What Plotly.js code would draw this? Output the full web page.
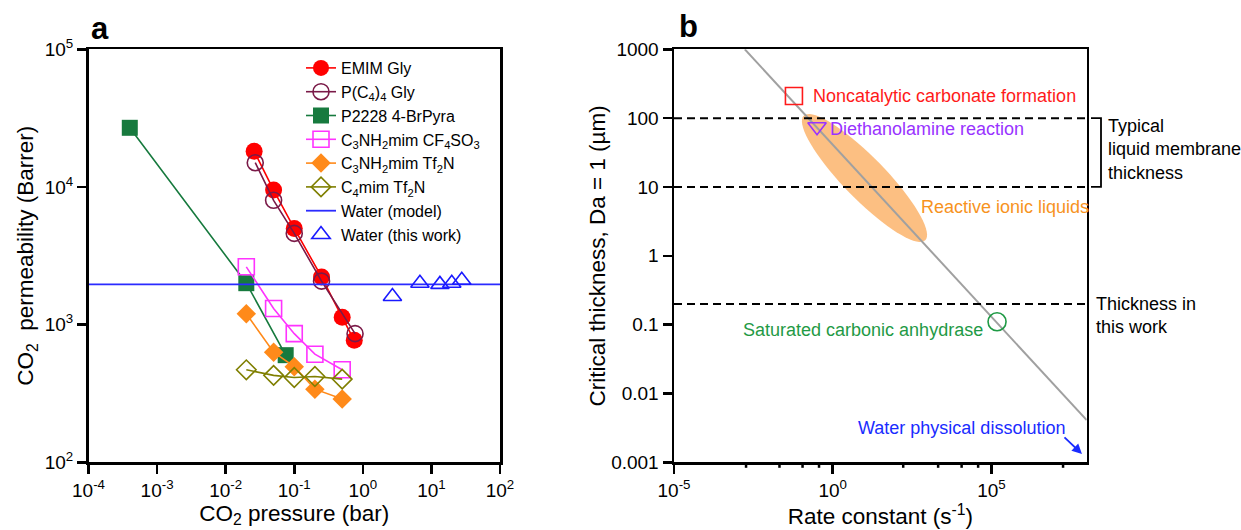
<!DOCTYPE html>
<html><head><meta charset="utf-8">
<script src="https://cdn.plot.ly/plotly-3.0.1.min.js"></script>
<style>html,body{margin:0;padding:0;background:#fff}#chart{width:1241px;height:530px}</style>
</head><body><div id="chart"></div>
<script>
// ---------- Panel a data ----------
const emimX = [0.026, 0.05, 0.1, 0.25, 0.5, 0.75];
const emimY = [18200, 9500, 5000, 2220, 1130, 770];
const pc4X = [0.027, 0.05, 0.1, 0.25, 0.77];
const pc4Y = [15000, 8000, 4600, 2070, 860];
const p2228X = [0.0004, 0.02, 0.075];
const p2228Y = [26900, 2000, 600];
const cf4X = [0.02, 0.05, 0.1, 0.2, 0.5];
const cf4Y = [2630, 1310, 860, 610, 470];
const tf2nX = [0.02, 0.05, 0.1, 0.2, 0.5];
const tf2nY = [1200, 630, 495, 340, 288];
const c4X = [0.02, 0.05, 0.1, 0.2, 0.5];
const c4Y = [470, 428, 413, 420, 402];
const waterModelX = [0.0001, 100];
const waterModelY = [1960, 1960];
const waterX = [2.7, 6.8, 13.3, 19.8, 27.7];
const waterY = [1600, 2000, 1960, 2000, 2100];

const aXTicks = [1e-4, 1e-3, 1e-2, 1e-1, 1, 10, 100];
const aXText = ['10<sup>-4</sup>','10<sup>-3</sup>','10<sup>-2</sup>','10<sup>-1</sup>','10<sup>0</sup>','10<sup>1</sup>','10<sup>2</sup>'];
const aYTicks = [100, 1000, 10000, 100000];
const aYText = ['10<sup>2</sup>','10<sup>3</sup>','10<sup>4</sup>','10<sup>5</sup>'];

// ---------- Panel b data ----------
const scalingK = [1.7e-3, 1e8];
const scalingL = [1000, 0.0041];
const refThick = [100, 10, 0.2];
const refK = [1e-5, 1e8];
const carbonateK = [0.06], carbonateL = [210];
const deaK = [0.32], deaL = [75];
const caK = [1.5e5], caL = [0.11];
const ionicEllipse = {k: 10, L: 13.5};   // centre of the reactive ionic liquids region

const bXTicks = [1e-5, 1, 1e5];
const bXText = ['10<sup>-5</sup>','10<sup>0</sup>','10<sup>5</sup>'];
const bYTicks = [0.001, 0.01, 0.1, 1, 10, 100, 1000];
const bYText = ['0.001','0.01','0.1','1','10','100','1000'];
const bMinorTicks = [1.86e-3, 0.021, 0.112, 0.37, 166, 2089, 11480, 38000, 1.8e7];

// ---------- geometry ----------
const W = 1241, H = 530;
const A = {x0: 88.5, x1: 500, y0: 49.3, y1: 462.3};
const B = {x0: 674, x1: 1086.7, y0: 49.3, y1: 462.3};
const px = v => v / W;
const py = v => 1 - v / H;
const bRangeX = [-5, 8], bRangeY = [-3, 3];
const bx = lk => B.x0 + (lk - bRangeX[0]) / (bRangeX[1] - bRangeX[0]) * (B.x1 - B.x0);
const by = ll => B.y0 + (bRangeY[1] - ll) / (bRangeY[1] - bRangeY[0]) * (B.y1 - B.y0);

const FONT = 'Liberation Sans, Arial, Helvetica, sans-serif';

function axis(range, domain, tv, tt, anchor, title, standoff) {
  return {
    type: 'log', range: range, domain: domain, anchor: anchor,
    showgrid: false, zeroline: false, showline: true, linecolor: '#000', linewidth: 2.5,
    mirror: true, ticks: 'outside', ticklen: 9, tickwidth: 2.5, tickcolor: '#000',
    tickmode: 'array', tickvals: tv, ticktext: tt,
    tickfont: {size: 19, color: '#000', family: FONT},
    title: {text: title, standoff: standoff, font: {size: 22.5, color: '#000', family: FONT}},
    automargin: false, fixedrange: true
  };
}

function series(name, x, y, color, symbol, size, filled) {
  return {
    type: 'scatter', mode: 'lines+markers', name: name, x: x, y: y,
    xaxis: 'x', yaxis: 'y',
    line: {color: color, width: 1.6},
    marker: {symbol: symbol, size: size, color: color,
             line: {color: color, width: filled ? 0 : 1.6}},
    cliponaxis: false
  };
}

const traces = [
  series('EMIM Gly', emimX, emimY, '#ff0000', 'circle', 17, true),
  series('P(C<sub>4</sub>)<sub>4</sub> Gly', pc4X, pc4Y, '#7a1a48', 'circle-open', 16, false),
  series('P2228 4-BrPyra', p2228X, p2228Y, '#177a3e', 'square', 16, true),
  series('C<sub>3</sub>NH<sub>2</sub>mim CF<sub>4</sub>SO<sub>3</sub>', cf4X, cf4Y, '#ff33ff', 'square-open', 16, false),
  series('C<sub>3</sub>NH<sub>2</sub>mim Tf<sub>2</sub>N', tf2nX, tf2nY, '#ff8a1a', 'diamond', 15, true),
  series('C<sub>4</sub>mim Tf<sub>2</sub>N', c4X, c4Y, '#7f7f00', 'diamond-open', 15, false),
  {type: 'scatter', mode: 'lines', name: 'Water (model)', x: waterModelX, y: waterModelY,
   xaxis: 'x', yaxis: 'y', line: {color: '#2b2bff', width: 1.8}},
  {type: 'scatter', mode: 'markers', name: 'Water (this work)', x: waterX, y: waterY,
   xaxis: 'x', yaxis: 'y', marker: {symbol: 'triangle-up-open', size: 16, color: '#1a1aff', line: {width: 1.6}}},
  // panel b
  {type: 'scatter', mode: 'lines', x: scalingK, y: scalingL, xaxis: 'x2', yaxis: 'y2',
   line: {color: '#a0a0a0', width: 2}, showlegend: false}
];
refThick.forEach(v => traces.push({type: 'scatter', mode: 'lines', x: refK, y: [v, v],
  xaxis: 'x2', yaxis: 'y2', line: {color: '#000', width: 2, dash: '8px,5px'}, showlegend: false}));
traces.push(
  {type: 'scatter', mode: 'markers', x: carbonateK, y: carbonateL, xaxis: 'x2', yaxis: 'y2', showlegend: false,
   marker: {symbol: 'square-open', size: 17, color: '#ff1a1a', line: {width: 1.6}}},
  {type: 'scatter', mode: 'markers', x: deaK, y: deaL, xaxis: 'x2', yaxis: 'y2', showlegend: false,
   marker: {symbol: 'triangle-down-open', size: 16, color: '#9933ff', line: {width: 1.6}}},
  {type: 'scatter', mode: 'markers', x: caK, y: caL, xaxis: 'x2', yaxis: 'y2', showlegend: false, cliponaxis: false,
   marker: {symbol: 'circle-open', size: 18, color: '#1f9a45', line: {width: 1.6}}}
);

// ---------- shapes ----------
const shapes = [];
// reactive ionic liquid ellipse (pixel-defined extent around its centre)
(function () {
  const cx = bx(Math.log10(ionicEllipse.k)), cy = by(Math.log10(ionicEllipse.L));
  const a = 87, b = 21, th = 45.7 * Math.PI / 180;
  let p = '';
  for (let i = 0; i <= 72; i++) {
    const t = 2 * Math.PI * i / 72;
    const dx = a * Math.cos(t) * Math.cos(th) - b * Math.sin(t) * Math.sin(th);
    const dy = a * Math.cos(t) * Math.sin(th) + b * Math.sin(t) * Math.cos(th);
    p += (i ? 'L' : 'M') + px(cx + dx).toFixed(5) + ',' + py(cy + dy).toFixed(5);
  }
  shapes.push({type: 'path', path: p + 'Z', xref: 'paper', yref: 'paper', layer: 'below',
               fillcolor: '#fcbf82', line: {width: 0}});
})();
// bracket for typical liquid membrane thickness
(function () {
  const y1 = by(2), y2 = by(1), xa = 1091, xb = 1101;
  shapes.push({type: 'path', xref: 'paper', yref: 'paper',
    path: 'M' + px(xa) + ',' + py(y1) + 'L' + px(xb) + ',' + py(y1) + 'L' + px(xb) + ',' + py(y2) + 'L' + px(xa) + ',' + py(y2),
    line: {color: '#000', width: 1.8}});
})();
// minor ticks on panel b x axis
bMinorTicks.forEach(v => {
  const x = bx(Math.log10(v));
  shapes.push({type: 'line', xref: 'paper', yref: 'paper', x0: px(x), x1: px(x),
               y0: py(B.y1), y1: py(B.y1 + 5.5), line: {color: '#000', width: 2.5}});
});

// ---------- annotations ----------
function txt(text, x, y, color, size, xanchor) {
  return {text: text, x: px(x), y: py(y), xref: 'paper', yref: 'paper',
    xanchor: xanchor || 'left', yanchor: 'middle', showarrow: false, align: 'left',
    font: {size: size, color: color, family: FONT}};
}
const annotations = [
  txt('<b>a</b>', 100, 29, '#000', 31, 'center'),
  txt('<b>b</b>', 688, 27, '#000', 31, 'center'),
  txt('Noncatalytic carbonate formation', 811, 96, '#ff1a1a', 18),
  txt('Diethanolamine reaction', 828, 129, '#9933ff', 18),
  txt('Reactive ionic liquids', 919, 207, '#f7931e', 18),
  txt('Saturated carbonic anhydrase', 985, 330, '#1f9a45', 18, 'right'),
  txt('Water physical dissolution', 856, 428, '#1a2cff', 18),
  txt('Typical<br>liquid membrane<br>thickness', 1106, 150, '#000', 18),
  txt('Thickness in<br>this work', 1094, 315, '#000', 18),
  {x: px(1082), y: py(454), xref: 'paper', yref: 'paper', text: '', showarrow: true,
   axref: 'pixel', ayref: 'pixel', ax: -19, ay: -18, arrowcolor: '#1a2cff', arrowwidth: 1.8,
   arrowhead: 2, arrowsize: 1.1}
];

const layout = {
  width: W, height: H,
  margin: {l: 0, r: 0, t: 0, b: 0},
  paper_bgcolor: '#fff', plot_bgcolor: 'rgba(0,0,0,0)',
  font: {family: FONT, color: '#000'},
  showlegend: true,
  legend: {x: px(301), y: py(51), xanchor: 'left', yanchor: 'top', bgcolor: 'rgba(0,0,0,0)',
           font: {size: 16, color: '#000', family: FONT}, tracegroupgap: 0},
  xaxis: axis([-4, 2], [px(A.x0), px(A.x1)], aXTicks, aXText, 'y', 'CO<sub>2</sub> pressure (bar)', 2),
  yaxis: axis([2, 5], [py(A.y1), py(A.y0)], aYTicks, aYText, 'x', 'CO<sub>2</sub>  permeability (Barrer)', 5),
  xaxis2: axis(bRangeX, [px(B.x0), px(B.x1)], bXTicks, bXText, 'y2', 'Rate constant (s<sup>-1</sup>)', 0),
  yaxis2: axis(bRangeY, [py(B.y1), py(B.y0)], bYTicks, bYText, 'x2', 'Critical thickness, Da = 1 (µm)', 0),
  shapes: shapes,
  annotations: annotations
};

Plotly.newPlot('chart', traces, layout, {displayModeBar: false, staticPlot: true});
</script>
</body></html>
